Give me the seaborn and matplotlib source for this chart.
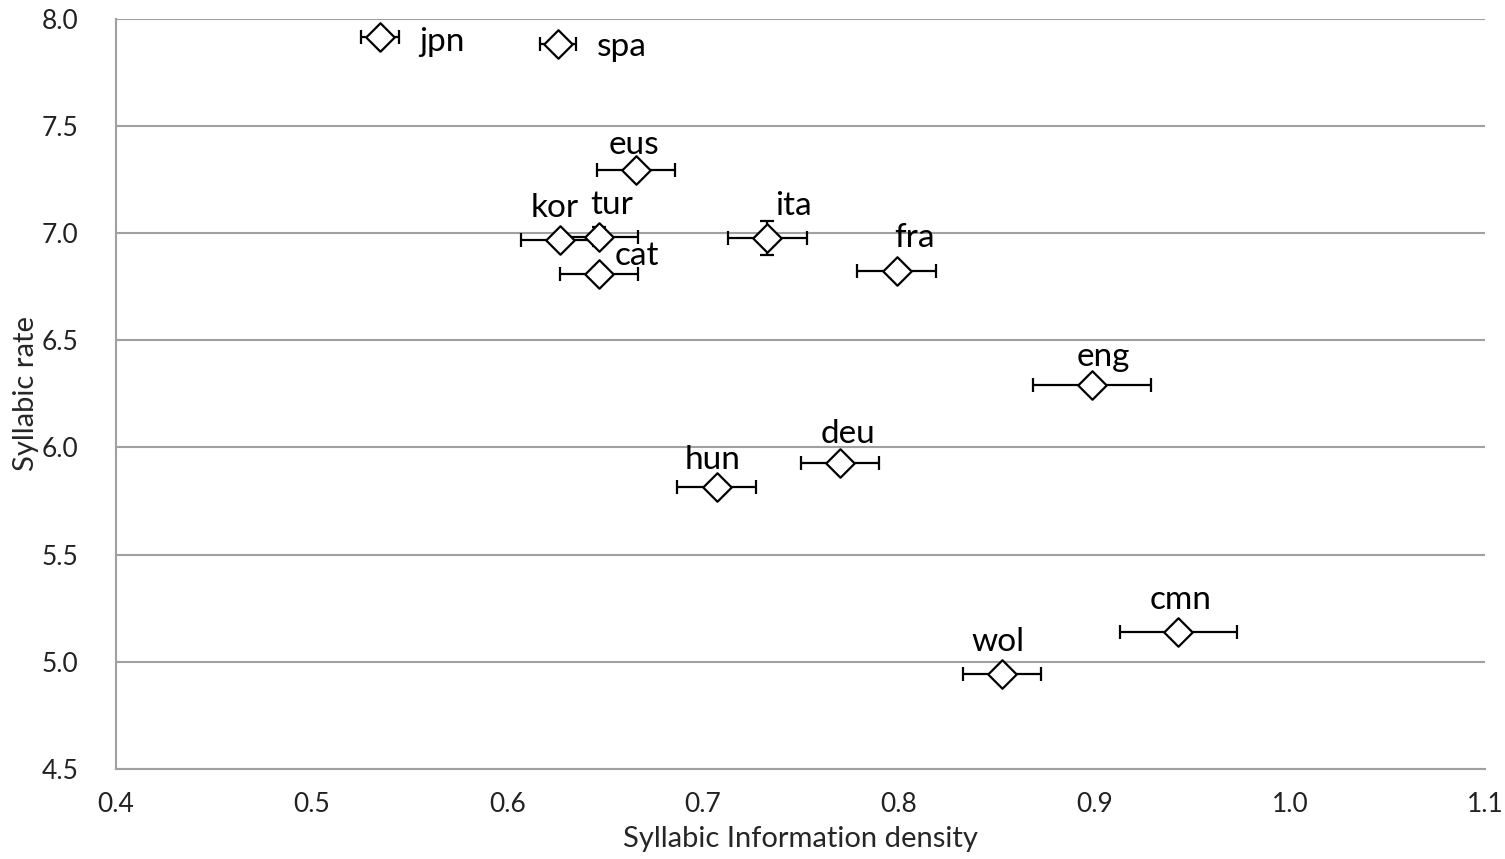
import matplotlib
matplotlib.use("Agg")
import matplotlib.pyplot as plt
import seaborn as sns
import pandas as pd

languages = ["jpn", "spa", "eus", "kor", "tur", "cat", "ita", "fra", "eng", "deu", "hun", "wol", "cmn"]
info_density = [0.535, 0.626, 0.666, 0.627, 0.647, 0.647, 0.733, 0.799, 0.899, 0.770, 0.707, 0.853, 0.943]
syllabic_rate = [7.916, 7.883, 7.295, 6.969, 6.983, 6.810, 6.978, 6.824, 6.292, 5.928, 5.816, 4.944, 5.139]
density_err = [0.0095, 0.009, 0.020, 0.020, 0.020, 0.020, 0.020, 0.020, 0.030, 0.020, 0.020, 0.020, 0.030]
rate_err = [0.0, 0.03, 0.02, 0.0, 0.045, 0.0, 0.08, 0.02, 0.03, 0.02, 0.0, 0.0, 0.0]
x_ticks = [0.4, 0.5, 0.6, 0.7, 0.8, 0.9, 1.0, 1.1]
y_ticks = [4.5, 5.0, 5.5, 6.0, 6.5, 7.0, 7.5, 8.0]

# label offsets in points (dx, dy) and alignment
label_style = {
    "jpn": (28, -4, "left"), "spa": (28, -2, "left"),
    "eus": (-2, 18, "center"), "kor": (-4, 23, "center"), "tur": (9, 23, "center"),
    "cat": (27, 13, "center"), "ita": (19, 23, "center"), "fra": (13, 24, "center"),
    "eng": (8, 20, "center"), "deu": (6, 21, "center"), "hun": (-3, 19, "center"),
    "wol": (-3, 23, "center"), "cmn": (2, 23, "center"),
}

df = pd.DataFrame({"lang": languages, "density": info_density, "rate": syllabic_rate})

sns.set_theme(style="white")
plt.rcParams["font.family"] = ["Lato", "DejaVu Sans"]

fig = plt.figure(figsize=(15.05, 8.59), dpi=100)
ax = fig.add_axes([0.077, 0.105, 0.910, 0.873])

ax.errorbar(info_density, syllabic_rate, xerr=density_err, yerr=rate_err,
            fmt="none", ecolor="black", elinewidth=1.6, capsize=5, capthick=1.6, zorder=3)
sns.scatterplot(data=df, x="density", y="rate", marker="D", s=210, color="white",
                edgecolor="black", linewidth=1.6, ax=ax, zorder=4)

for lang, x, y in zip(languages, info_density, syllabic_rate):
    dx, dy, ha = label_style[lang]
    ax.annotate(lang, (x, y), xytext=(dx, dy), textcoords="offset points",
                ha=ha, va="center", fontsize=24, color="black", zorder=5)

ax.set_xlim(0.4, 1.1)
ax.set_ylim(4.5, 8.0)
ax.set_xticks(x_ticks)
ax.set_xticklabels([f"{t:.1f}" for t in x_ticks])
ax.set_yticks(y_ticks)
ax.set_yticklabels([f"{t:.1f}" for t in y_ticks])
ax.tick_params(axis="both", labelsize=19, colors="#222222", length=0)
ax.tick_params(axis="y", pad=27)
ax.tick_params(axis="x", pad=17)
ax.yaxis.grid(True, color="#A0A0A0", linewidth=1.5)
ax.xaxis.grid(False)
for side in ["top", "right"]:
    ax.spines[side].set_visible(False)
for side in ["left", "bottom"]:
    ax.spines[side].set_color("#A0A0A0")
    ax.spines[side].set_linewidth(1.5)

ax.set_xlabel("Syllabic Information density", fontsize=21, labelpad=6)
ax.set_ylabel("Syllabic rate", fontsize=21)
ax.yaxis.set_label_coords(-0.056, 0.5)

fig.savefig("out.png", dpi=100)
